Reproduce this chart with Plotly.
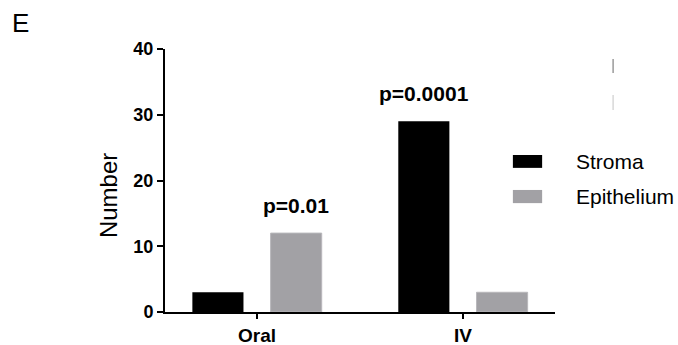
import plotly.graph_objects as go

# Data
categories = ["Oral", "IV"]
stroma = [3, 29]
epithelium = [12, 3]
p_labels = ["p=0.01", "p=0.0001"]
y_ticks = [0, 10, 20, 30, 40]

BLACK = "#000000"
GREY = "#a2a1a5"
FONT = "Liberation Sans, Arial, sans-serif"

fig = go.Figure()
fig.add_trace(go.Bar(name="Stroma", x=categories, y=stroma,
                     marker=dict(color=BLACK, line=dict(width=0)), showlegend=False))
fig.add_trace(go.Bar(name="Epithelium", x=categories, y=epithelium,
                     marker=dict(color=GREY, line=dict(color="#b8b7bb", width=1)), showlegend=False))

bargap, groupgap = 0.24, 0.347
slot = (1 - bargap) / 2

# p-value labels above the taller bar of each group
for i, (s, e, lab) in enumerate(zip(stroma, epithelium, p_labels)):
    if s >= e:
        xpos, top = i - slot / 2, s
    else:
        xpos, top = i + slot / 2, e
    fig.add_annotation(x=xpos, y=top, text=f"<b>{lab}</b>", showarrow=False,
                       xref="x", yref="y", xanchor="center", yanchor="bottom", yshift=14,
                       font=dict(family=FONT, size=21, color=BLACK))

# y-axis title
fig.add_annotation(x=-0.146, y=0.441, xref="paper", yref="paper", text="Number",
                   textangle=-90, showarrow=False, xanchor="center", yanchor="middle",
                   font=dict(family=FONT, size=24, color=BLACK))

# panel letter
fig.add_annotation(x=-0.397, y=1.165, xref="paper", yref="paper", text="E",
                   xanchor="left", yanchor="top", showarrow=False,
                   font=dict(family=FONT, size=26, color=BLACK))

# legend
legend_items = [("Stroma", BLACK, 0.597, 0.548), ("Epithelium", GREY, 0.464, 0.414)]
for name, col, y1, y0 in legend_items:
    fig.add_shape(type="rect", xref="paper", yref="paper", x0=0.892, x1=0.967,
                  y0=y0, y1=y1, fillcolor=col, line=dict(width=0))
    fig.add_annotation(x=1.049, y=(y0 + y1) / 2, xref="paper", yref="paper", text=name,
                       xanchor="left", yanchor="middle", showarrow=False,
                       font=dict(family=FONT, size=21, color=BLACK))

# small faint marks at upper right
fig.add_shape(type="line", xref="paper", yref="paper", x0=1.149, x1=1.149,
              y0=(312 - 73) / 263, y1=(312 - 59) / 263, line=dict(color="#9a9a9a", width=1.5))
fig.add_shape(type="line", xref="paper", yref="paper", x0=1.149, x1=1.149,
              y0=(312 - 110) / 263, y1=(312 - 95) / 263, line=dict(color="#d8d8d8", width=1.5))

fig.update_layout(
    width=678, height=345,
    margin=dict(l=165, r=123, t=49, b=33),
    paper_bgcolor="white", plot_bgcolor="white",
    barmode="group", bargap=bargap, bargroupgap=groupgap,
    font=dict(family=FONT, color=BLACK),
)
fig.update_xaxes(range=[-0.447, 1.447], showline=True, linecolor=BLACK, linewidth=2,
                 ticks="outside", ticklen=5, tickwidth=2, tickcolor=BLACK,
                 tickfont=dict(family=FONT, size=19, color=BLACK),
                 tickvals=categories, ticktext=[f"<b>{c}</b>" for c in categories],
                 showgrid=False, zeroline=False, automargin=False)
fig.update_yaxes(range=[0, 40], tickvals=y_ticks, ticktext=[f"<b>{t}</b>" for t in y_ticks],
                 showline=True, linecolor=BLACK, linewidth=2,
                 ticks="outside", ticklen=6, tickwidth=2, tickcolor=BLACK,
                 tickfont=dict(family=FONT, size=18, color=BLACK),
                 showgrid=False, zeroline=False, automargin=False)

fig.write_html("out.html")
